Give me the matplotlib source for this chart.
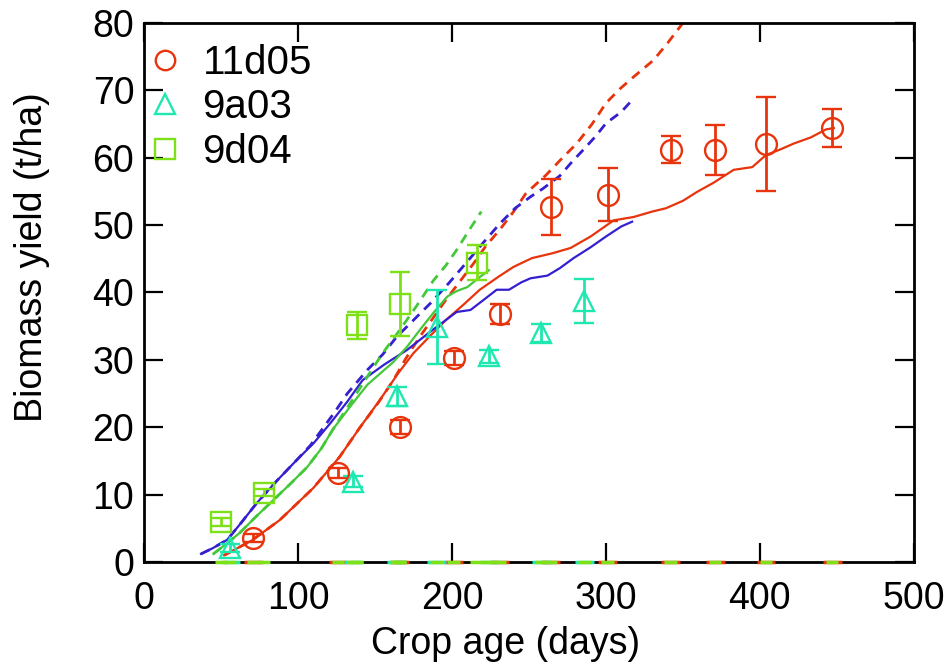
import matplotlib
matplotlib.use("Agg")
import matplotlib.pyplot as plt
from matplotlib.lines import Line2D
import numpy as np

plt.rcParams['font.family'] = ['Liberation Sans', 'DejaVu Sans']

# Observations
obs_11d05_x = [71, 126, 166, 201, 231, 264, 301, 342, 371, 404, 447]
obs_11d05_y = [3.6, 13.2, 20.0, 30.3, 36.8, 52.7, 54.5, 61.2, 61.1, 62.0, 64.4]
obs_11d05_e = [0.6, 0.8, 1.0, 1.0, 1.5, 4.2, 3.9, 2.0, 3.7, 7.0, 2.8]

obs_9a03_x = [56, 136, 164, 190, 224, 258, 286]
obs_9a03_y = [2.1, 11.9, 24.6, 34.9, 30.5, 34.0, 38.7]
obs_9a03_e = [0.6, 0.8, 1.4, 5.5, 1.0, 1.3, 3.3]

obs_9d04_x = [50, 78, 138, 166, 216]
obs_9d04_y = [6.0, 10.3, 35.1, 38.3, 44.4]
obs_9d04_e = [0.6, 0.5, 2.0, 4.8, 2.6]

# Simulations
red_solid_x = [52, 70, 88, 110, 127, 140, 153, 165, 175, 186, 196, 208, 218, 230, 240, 252, 265, 277, 290, 305, 318, 330, 339, 350, 359, 370, 383, 395, 404, 413, 422, 433, 443, 448]
red_solid_y = [1.0, 3.2, 6.2, 11.0, 15.6, 19.9, 24.0, 28.0, 31.0, 33.6, 35.9, 38.3, 40.4, 42.3, 43.8, 45.1, 45.8, 46.6, 48.3, 50.7, 51.2, 52.0, 52.5, 53.6, 54.9, 56.3, 58.2, 58.6, 60.4, 61.2, 62.1, 63.0, 64.2, 64.4]

red_dash_x = [52, 70, 88, 110, 127, 140, 152, 162, 170, 179, 188, 196, 205, 214, 222, 231, 240, 248, 261, 271, 281, 291, 300, 309, 318, 331, 340, 350]
red_dash_y = [1.0, 3.2, 6.2, 11.0, 15.6, 19.9, 23.6, 27.0, 30.2, 33.4, 36.3, 38.9, 41.6, 44.3, 46.9, 49.3, 52.0, 54.7, 57.4, 59.8, 62.1, 65.0, 68.1, 70.2, 72.0, 74.5, 77.0, 80.0]

blue_solid_x = [37, 45, 54, 63, 73, 86, 99, 110, 121, 132, 142, 156, 171, 186, 196, 203, 212, 220, 229, 237, 245, 251, 262, 270, 279, 290, 300, 310, 317]
blue_solid_y = [1.2, 2.1, 3.3, 5.8, 8.7, 12.0, 15.1, 17.6, 20.6, 23.8, 27.0, 29.3, 31.5, 34.2, 35.9, 37.1, 37.4, 38.8, 40.4, 40.4, 41.5, 42.1, 42.5, 43.6, 45.1, 46.7, 48.3, 49.8, 50.5]

blue_dash_x = [37, 45, 54, 63, 73, 86, 99, 108, 116, 124, 132, 145, 155, 164, 175, 186, 198, 210, 220, 231, 241, 251, 259, 270, 278, 285, 293, 300, 310, 318]
blue_dash_y = [1.2, 2.1, 3.3, 5.8, 8.7, 12.0, 15.1, 17.3, 19.8, 22.3, 25.0, 28.5, 30.8, 33.4, 35.9, 38.4, 41.4, 44.6, 47.3, 50.2, 52.5, 54.2, 55.4, 57.3, 59.4, 61.1, 63.1, 65.1, 66.8, 68.8]

green_solid_x = [45, 54, 62, 73, 84, 95, 106, 115, 123, 134, 145, 154, 162, 171, 179, 188, 197, 203, 210, 217, 224]
green_solid_y = [1.2, 2.8, 4.3, 6.8, 9.2, 11.6, 14.1, 16.8, 19.8, 23.1, 26.3, 28.1, 29.7, 32.0, 34.4, 37.0, 39.4, 40.2, 40.8, 42.1, 43.3]

green_dash_x = [45, 54, 62, 73, 84, 95, 106, 115, 123, 134, 145, 155, 166, 177, 188, 196, 203, 211, 219]
green_dash_y = [1.2, 2.8, 4.3, 6.8, 9.2, 11.6, 14.1, 16.8, 19.8, 23.6, 27.5, 31.0, 34.4, 38.0, 41.8, 44.0, 46.3, 49.2, 52.0]

labels = ['11d05', '9a03', '9d04']

c_red = '#e8340c'
c_cyan = '#1ee8b0'
c_lgreen = '#7ee016'
c_blue = '#3420d0'
c_green = '#44c83a'

fig = plt.figure(figsize=(9.48, 6.68), dpi=100)
ax = fig.add_axes([0.152, 0.1587, 0.812, 0.807])

lw = 1.6
dash = (0, (3.5, 2.5))
ax.plot(red_solid_x, red_solid_y, color=c_red, lw=lw, zorder=2)
ax.plot(red_dash_x, red_dash_y, color=c_red, lw=lw + 0.4, ls=dash, zorder=2)
ax.plot(blue_solid_x, blue_solid_y, color=c_blue, lw=lw, zorder=2)
ax.plot(blue_dash_x, blue_dash_y, color=c_blue, lw=lw + 0.4, ls=dash, zorder=2)
ax.plot(green_solid_x, green_solid_y, color=c_green, lw=lw, zorder=2)
ax.plot(green_dash_x, green_dash_y, color=c_green, lw=lw + 0.4, ls=dash, zorder=2)

ms = 15
mew = 1.7
series = [
    (obs_11d05_x, obs_11d05_y, obs_11d05_e, c_red, 'o', labels[0]),
    (obs_9a03_x, obs_9a03_y, obs_9a03_e, c_cyan, '^', labels[1]),
    (obs_9d04_x, obs_9d04_y, obs_9d04_e, c_lgreen, 's', labels[2]),
]
handles = []
for xs, ys, es, col, mk, lab in series:
    ax.errorbar(xs, ys, yerr=es, fmt=mk, mfc='none', mec=col, mew=mew, ms=ms,
                ecolor=col, elinewidth=2.0, capsize=7, capthick=2.0, zorder=3)
    handles.append(Line2D([], [], ls='none', marker=mk, mfc='none', mec=col,
                          mew=mew, ms=14, label=lab))

# zero-level caps along the x axis
all_x = np.array(obs_11d05_x + obs_9a03_x + obs_9d04_x)
ax.hlines(np.zeros(len(obs_11d05_x)), np.array(obs_11d05_x) - 6, np.array(obs_11d05_x) + 6,
          colors=c_red, lw=2.5, zorder=5, clip_on=False)
ax.hlines(np.zeros(len(obs_9a03_x)), np.array(obs_9a03_x) - 6, np.array(obs_9a03_x) + 6,
          colors=c_cyan, lw=2.5, zorder=5, clip_on=False)
ax.hlines(np.zeros(len(all_x)), all_x - 4, all_x + 4,
          colors=c_lgreen, lw=2.5, zorder=6, clip_on=False)

ax.set_xlim(0, 500)
ax.set_ylim(0, 80)
ax.set_xticks(np.arange(0, 501, 100))
ax.set_yticks(np.arange(0, 81, 10))
ax.tick_params(direction='in', length=14, width=1.6, labelsize=27,
               top=True, right=True)
ax.tick_params(axis='x', pad=14)
ax.tick_params(axis='y', pad=7)
for s in ax.spines.values():
    s.set_linewidth(2.0)
ax.set_xlabel('Crop age (days)', fontsize=27)
ax.set_ylabel('Biomass yield (t/ha)', fontsize=27)
ax.xaxis.set_label_coords(0.469, -0.119)
ax.yaxis.set_label_coords(-0.122, 0.566)

ax.legend(handles=handles, loc='upper left', bbox_to_anchor=(0.0, 0.965),
          frameon=False, fontsize=29, handletextpad=0.45, borderaxespad=0.0,
          borderpad=0.05, labelspacing=0.16, handlelength=0.95)

fig.savefig('out.png', dpi=100)
